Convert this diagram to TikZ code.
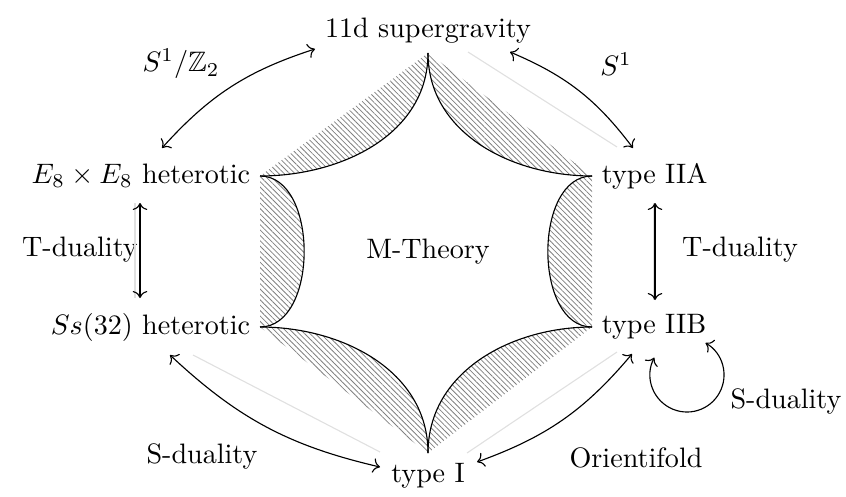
\documentclass[tikz,border=0pt]{standalone}
\usepackage{amsmath,amssymb}
\usepackage{tikz}
\usetikzlibrary{arrows.meta,calc,patterns.meta,positioning}

\begin{document}
\begin{tikzpicture}[hatch/.style={pattern={Lines[angle=-45,distance=1.35pt,line width=0.28pt]},pattern color=gray},
  ghost/.style={black!12,line width=0.4pt}]
  \useasboundingbox (0,0) rectangle (10.575,6.2);
  \node[anchor=south] (sugra) at (5.35,5.5375) {11d supergravity};
  \node[anchor=east] (e8) at (3.25,4) {$E_8\times E_8$ heterotic};
  \node[anchor=east] (ss) at (3.25,2.1125) {$Ss(32)$ heterotic};
  \node[anchor=west] (iia) at (7.4,4) {type IIA};
  \node[anchor=west] (iib) at (7.4,2.1125) {type IIB};
  \node[anchor=north] (typeI) at (5.35,0.5375) {type I};
  \node (mth) at (5.35,3.05) {M-Theory};
  \foreach \a/\b/\o/\i in {sugra.south/e8.east/-90/0, e8.east/ss.east/0/0, ss.east/typeI.north/0/90,
    typeI.north/iib.west/90/180, iib.west/iia.west/180/180, iia.west/sugra.south/180/-90}{
    \fill[hatch] (\a) to[out=\o,in=\i] (\b) -- cycle;
    \draw (\a) to[out=\o,in=\i] (\b);}
  \node (circz) at (2.2625,5.4) {$S^1/\mathbb{Z}_2$};
  \node (circ) at (7.7,5.4) {$S^1$};
  \node (tdl) at (1.0,3.075) {T-duality};
  \node (tdr) at (9.25,3.075) {T-duality};
  \node (sdr) at (9.825,1.1875) {S-duality};
  \node (sdl) at (2.525,0.5) {S-duality};
  \node (orf) at (7.95,0.475) {Orientifold};
  \draw[ghost] ([shift={(0.5,0.0125)}]sugra.south) -- ([shift={(0.3125,0.3625)}]iia.west);
  \draw[ghost] ([shift={(-1.5625,-0.3375)}]e8.east) -- ([shift={(-1.5625,0.3625)}]ss.east);
  \draw[ghost] ([shift={(0.77,-0.3375)}]iia.west) -- ([shift={(0.77,0.3375)}]iib.west);
  \draw[ghost] ([shift={(-0.8375,-0.35)}]ss.east) -- ([shift={(-0.6,0.0125)}]typeI.north);
  \draw[ghost] ([shift={(0.4875,0)}]typeI.north) -- ([shift={(0.3125,-0.3125)}]iib.west);
  \draw[<->] ([shift={(-1.225,0.35)}]e8.east) to[bend left=15] ([shift={(-1.4125,0.05)}]sugra.south);
  \draw[<->] ([shift={(1.025,0.0125)}]sugra.south) to[bend left=15] ([shift={(0.5125,0.35)}]iia.west);
  \draw[<->] ([shift={(-1.5,-0.3375)}]e8.east) -- ([shift={(-1.5,0.3625)}]ss.east);
  \draw[<->] ([shift={(0.7875,-0.3375)}]iia.west) -- ([shift={(0.7875,0.3375)}]iib.west);
  \draw[<->] ([shift={(-1.125,-0.35)}]ss.east) to[bend right=15] ([shift={(-0.6,-0.175)}]typeI.north);
  \draw[<->] ([shift={(0.6125,-0.1125)}]typeI.north) to[bend right=15] ([shift={(0.5,-0.3375)}]iib.west);
  \draw[<->] ([shift={(0.779,-0.383)}]iib.west) arc[start angle=152,end angle=420,radius=0.4625];
\end{tikzpicture}
\end{document}
